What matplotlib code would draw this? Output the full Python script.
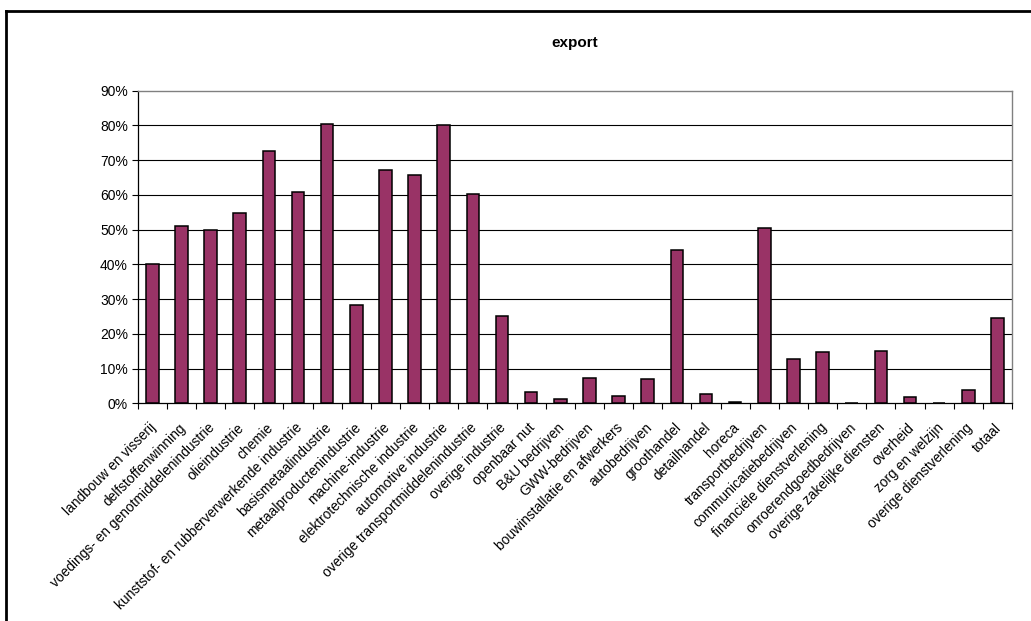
import matplotlib
matplotlib.use("Agg")
import matplotlib.pyplot as plt
from matplotlib.lines import Line2D
from matplotlib.transforms import ScaledTranslation
import numpy as np

categories = [
    "landbouw en visserij", "delfstoffenwinning", "voedings- en genotmiddelenindustrie",
    "olieindustrie", "chemie", "kunststof- en rubberverwerkende industrie",
    "basismetaalindustrie", "metaalproductenindustrie", "machine-industrie",
    "elektrotechnische industrie", "automotive industrie", "overige transportmiddelenindustrie",
    "overige industrie", "openbaar nut", "B&U bedrijven", "GWW-bedrijven",
    "bouwinstallatie en afwerkers", "autobedrijven", "groothandel", "detailhandel",
    "horeca", "transportbedrijven", "communicatiebedrijven", "financiéle dienstverlening",
    "onroerendgoedbedrijven", "overige zakelijke diensten", "overheid", "zorg en welzijn",
    "overige dienstverlening", "totaal",
]
export_share = [
    0.400, 0.510, 0.498, 0.548, 0.726, 0.607, 0.804, 0.284, 0.672, 0.658,
    0.800, 0.603, 0.250, 0.032, 0.011, 0.074, 0.021, 0.070, 0.440, 0.028,
    0.003, 0.505, 0.127, 0.148, 0.001, 0.151, 0.018, 0.000, 0.038, 0.246,
]
yticks = [0.0, 0.1, 0.2, 0.3, 0.4, 0.5, 0.6, 0.7, 0.8, 0.9]

plt.rcParams['font.family'] = ['Liberation Sans', 'DejaVu Sans']

W, H = 1031, 621
fig = plt.figure(figsize=(W / 100, H / 100), dpi=100)
left, right, top, bottom = 137.7, 1012.0, 90.7, 403.3
ax = fig.add_axes([left / W, 1 - bottom / H, (right - left) / W, (bottom - top) / H])

x = np.arange(len(categories))
ax.bar(x, export_share, width=0.43, color='#993366', edgecolor='black', linewidth=1.1, zorder=3)

ax.set_xlim(-0.5, len(categories) - 0.5)
ax.set_ylim(0, 0.9)
ax.set_yticks(yticks)
ax.set_yticklabels([f"{int(round(v * 100))}%" for v in yticks], fontsize=10)
for v in yticks[1:-1]:
    ax.axhline(v, color='black', linewidth=0.8, zorder=1)

ax.set_xticks(x)
ax.set_xticklabels(categories, rotation=45, ha='right', rotation_mode='anchor', fontsize=9.9)
ax.tick_params(axis='x', which='major', length=0, pad=6)
ax.set_xticks(np.arange(-0.5, len(categories), 1.0), minor=True)
ax.tick_params(axis='x', which='minor', length=4, width=0.8, direction='out', color='black')
ax.tick_params(axis='y', length=4, width=0.8, direction='out', pad=3)
shift = ScaledTranslation(-3 / 100, -9 / 100, fig.dpi_scale_trans)
for lbl in ax.get_xticklabels():
    lbl.set_transform(lbl.get_transform() + shift)

ax.spines['left'].set_color('black')
ax.spines['bottom'].set_color('black')
ax.spines['left'].set_linewidth(0.9)
ax.spines['bottom'].set_linewidth(0.9)
ax.spines['top'].set_color('#808080')
ax.spines['right'].set_color('#808080')
ax.spines['top'].set_linewidth(1.0)
ax.spines['right'].set_linewidth(1.0)

fig.text(0.5 * (left + right) / W, 1 - 43 / H, "export", ha='center', va='center',
         fontsize=11, fontweight='bold')

# outer border (left and top only visible)
fig.add_artist(Line2D([6 / W, 6 / W], [0, 1 - 11 / H], transform=fig.transFigure,
                      color='black', linewidth=2.0))
fig.add_artist(Line2D([6 / W, 1.0], [1 - 11 / H, 1 - 11 / H], transform=fig.transFigure,
                      color='black', linewidth=2.0))

fig.savefig("out.png", dpi=100, facecolor='white')
